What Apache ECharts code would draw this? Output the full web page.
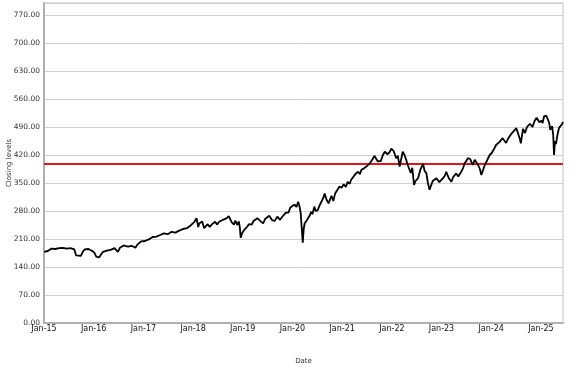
<!DOCTYPE html>
<html>
<head>
<meta charset="utf-8">
<script src="https://cdn.jsdelivr.net/npm/echarts@6/dist/echarts.min.js"></script>
<style>
html,body{margin:0;padding:0;background:#fff;}
#chart{width:577px;height:367px;}
</style>
</head>
<body>
<div id="chart"></div>
<script>
// Closing levels
const dates = [
'2015-01-02','2015-01-15','2015-01-29','2015-02-12','2015-02-26','2015-03-11','2015-03-25','2015-04-08','2015-04-22','2015-05-06','2015-05-20','2015-06-03','2015-06-17','2015-07-01','2015-07-15','2015-07-29','2015-08-12','2015-08-25','2015-09-08','2015-09-29','2015-10-13','2015-10-27','2015-11-10','2015-11-24','2015-12-08','2015-12-22',
'2016-01-06','2016-01-20','2016-02-03','2016-02-11','2016-02-25','2016-03-10','2016-03-24','2016-04-07','2016-04-21','2016-05-05','2016-05-19','2016-06-02','2016-06-16','2016-06-27','2016-07-12','2016-07-26','2016-08-09','2016-08-23','2016-09-09','2016-09-22','2016-10-06','2016-10-20','2016-11-03','2016-11-17','2016-12-01','2016-12-15','2016-12-29',
'2017-01-12','2017-01-26','2017-02-09','2017-02-23','2017-03-09','2017-03-23','2017-04-06','2017-04-20','2017-05-04','2017-05-18','2017-06-01','2017-06-15','2017-06-29','2017-07-13','2017-07-27','2017-08-10','2017-08-24','2017-09-07','2017-09-21','2017-10-05','2017-10-19','2017-11-02','2017-11-16','2017-11-30','2017-12-14','2017-12-28',
'2018-01-11','2018-01-26','2018-02-08','2018-02-15','2018-02-27','2018-03-09','2018-03-23','2018-04-06','2018-04-18','2018-05-03','2018-05-17','2018-05-31','2018-06-12','2018-06-27','2018-07-11','2018-07-25','2018-08-08','2018-08-22','2018-09-05','2018-09-20','2018-10-03','2018-10-11','2018-10-29','2018-11-07','2018-11-23','2018-12-03','2018-12-10','2018-12-17','2018-12-28',
'2019-01-10','2019-01-18','2019-02-01','2019-02-15','2019-03-01','2019-03-08','2019-03-21','2019-04-04','2019-04-18','2019-04-30','2019-05-13','2019-05-31','2019-06-14','2019-06-28','2019-07-15','2019-07-26','2019-08-05','2019-08-23','2019-09-12','2019-09-26','2019-10-02','2019-10-17','2019-10-31','2019-11-14','2019-11-27','2019-12-03','2019-12-17','2019-12-31',
'2020-01-17','2020-01-31','2020-02-12','2020-02-20','2020-03-02','2020-03-09','2020-03-17','2020-03-24','2020-03-31','2020-04-16','2020-04-24','2020-05-06','2020-05-18','2020-05-27','2020-06-10','2020-06-19','2020-07-05','2020-07-20','2020-08-04','2020-08-14','2020-08-25','2020-09-08','2020-09-23','2020-10-14','2020-10-28','2020-11-10','2020-11-25','2020-12-12','2020-12-28',
'2021-01-12','2021-01-28','2021-02-10','2021-02-25','2021-03-08','2021-03-22','2021-04-12','2021-04-28','2021-05-12','2021-05-22','2021-06-08','2021-06-18','2021-06-28','2021-07-12','2021-07-27','2021-08-10','2021-08-25','2021-09-07','2021-09-20','2021-10-01','2021-10-12','2021-10-27','2021-11-10','2021-11-24','2021-12-01','2021-12-17','2021-12-28',
'2022-01-04','2022-01-14','2022-02-02','2022-02-14','2022-02-27','2022-03-08','2022-03-22','2022-04-04','2022-04-16','2022-04-28','2022-05-11','2022-05-20','2022-05-31','2022-06-13','2022-06-24','2022-07-13','2022-07-28','2022-08-18','2022-08-30','2022-09-12','2022-09-23','2022-10-05','2022-10-14','2022-10-28','2022-11-10','2022-11-25','2022-12-05','2022-12-16','2022-12-30',
'2023-01-12','2023-01-25','2023-02-05','2023-02-22','2023-03-14','2023-03-28','2023-04-06','2023-04-19','2023-05-04','2023-05-26','2023-06-09','2023-06-20','2023-07-14','2023-07-31','2023-08-08','2023-08-18','2023-09-02','2023-09-14','2023-09-27','2023-10-10','2023-10-21','2023-10-27','2023-11-15','2023-11-30','2023-12-21',
'2024-01-05','2024-01-25','2024-02-06','2024-02-20','2024-03-03','2024-03-25','2024-04-08','2024-04-20','2024-05-06','2024-05-26','2024-06-10','2024-06-20','2024-07-04','2024-07-16','2024-07-30','2024-08-06','2024-08-22','2024-09-06','2024-09-20','2024-10-12','2024-10-31','2024-11-15','2024-11-30','2024-12-10','2024-12-20',
'2025-01-04','2025-01-13','2025-01-24','2025-02-10','2025-02-20','2025-03-03','2025-03-10','2025-03-24','2025-04-01','2025-04-07','2025-04-14','2025-04-21','2025-05-01','2025-05-14','2025-05-26','2025-06-05','2025-06-12'
];
const closes = [
178,176,180,184,186,182,185,186,187,185,188,187,186,183,187,186,184,169,174,168,178,184,183,185,182,180,
176,166,170,164,172,178,182,181,186,183,182,187,183,178,188,190,194,195,191,195,193,192,188,196,199,204,203,
205,207,209,212,215,212,216,215,220,221,224,224,222,226,228,225,226,228,231,232,235,236,237,242,244,246,
253,262,240,249,252,254,237,241,247,240,246,247,253,246,253,257,258,260,262,267,265,252,246,256,245,254,240,213,225,
232,236,240,247,250,246,255,258,262,266,254,249,260,263,268,270,257,255,266,263,258,265,270,276,280,276,289,292,
296,290,303,295,275,240,201,235,249,257,252,268,278,272,291,280,282,295,305,312,324,308,299,318,305,324,332,341,338,
347,340,353,348,358,362,374,378,372,383,386,381,391,396,401,408,418,414,404,399,405,420,428,433,422,428,436,
441,430,412,418,391,395,428,420,408,395,383,375,388,345,355,362,382,398,380,374,350,333,338,355,353,362,366,352,349,
362,368,378,363,353,365,370,374,366,378,388,399,412,410,403,395,408,403,395,385,370,375,395,405,420,
425,437,445,448,453,462,466,450,462,472,478,483,487,482,460,449,485,475,490,498,490,505,513,510,502,
506,500,517,518,514,500,483,492,470,420,455,447,468,488,491,497,503
];
const referenceLevel = 398;
const tickDates = ['2015-01-01','2016-01-01','2017-01-01','2018-01-01','2019-01-01','2020-01-01','2021-01-01','2022-01-01','2023-01-01','2024-01-01','2025-01-01'];
const tickLabels = ['Jan-15','Jan-16','Jan-17','Jan-18','Jan-19','Jan-20','Jan-21','Jan-22','Jan-23','Jan-24','Jan-25'];
const xStart = '2015-01-01';
const xEnd = '2025-06-12';

const ts = s => Date.parse(s + 'T00:00:00Z');
const seriesData = dates.map((d, i) => [ts(d), closes[i]]);
const tickTs = tickDates.map(ts);

const chart = echarts.init(document.getElementById('chart'), null, {renderer: 'canvas'});
chart.setOption({
  animation: false,
  backgroundColor: '#fff',
  textStyle: {fontFamily: 'DejaVu Sans'},
  grid: {left: 44, right: 14, top: 3, bottom: 44, outerBoundsMode: 'none', containLabel: false, show: true, borderColor: '#c4c4c4', borderWidth: 1, backgroundColor: 'transparent'},
  xAxis: {
    type: 'value',
    min: ts(xStart),
    max: ts(xEnd),
    name: 'Date',
    nameLocation: 'middle',
    nameGap: 35,
    nameMoveOverlap: false,
    nameTextStyle: {fontSize: 7, color: '#333', fontFamily: 'DejaVu Sans'},
    axisLine: {show: true, lineStyle: {color: '#b0b0b0', width: 2}},
    axisTick: {show: false},
    splitLine: {show: false},
    axisLabel: {
      customValues: tickTs,
      fontSize: 8,
      color: '#111',
      margin: 2,
      fontFamily: 'DejaVu Sans',
      formatter: function (v) {
        const i = tickTs.indexOf(v);
        return i >= 0 ? tickLabels[i] : '';
      }
    }
  },
  yAxis: {
    type: 'value',
    min: 0,
    max: 800,
    interval: 70,
    name: 'Closing levels',
    nameLocation: 'middle',
    nameRotate: 90,
    nameGap: 31,
    nameMoveOverlap: false,
    nameTextStyle: {fontSize: 7, color: '#333', fontFamily: 'DejaVu Sans'},
    axisLine: {show: true, lineStyle: {color: '#b0b0b0', width: 2}},
    axisTick: {show: false},
    splitLine: {show: true, lineStyle: {color: '#d0d0d0', width: 1}},
    axisLabel: {
      fontSize: 7.5,
      color: '#333',
      margin: 4,
      showMaxLabel: false,
      fontFamily: 'DejaVu Sans',
      formatter: v => v.toFixed(2)
    }
  },
  series: [{
    type: 'line',
    data: seriesData,
    showSymbol: false,
    symbol: 'none',
    lineStyle: {color: '#000', width: 1.8},
    z: 3,
    markLine: {
      silent: true,
      symbol: 'none',
      label: {show: false},
      lineStyle: {color: '#e3151a', width: 2, type: 'solid'},
      data: [{yAxis: referenceLevel}],
      z: 2
    }
  }]
});
</script>
</body>
</html>
